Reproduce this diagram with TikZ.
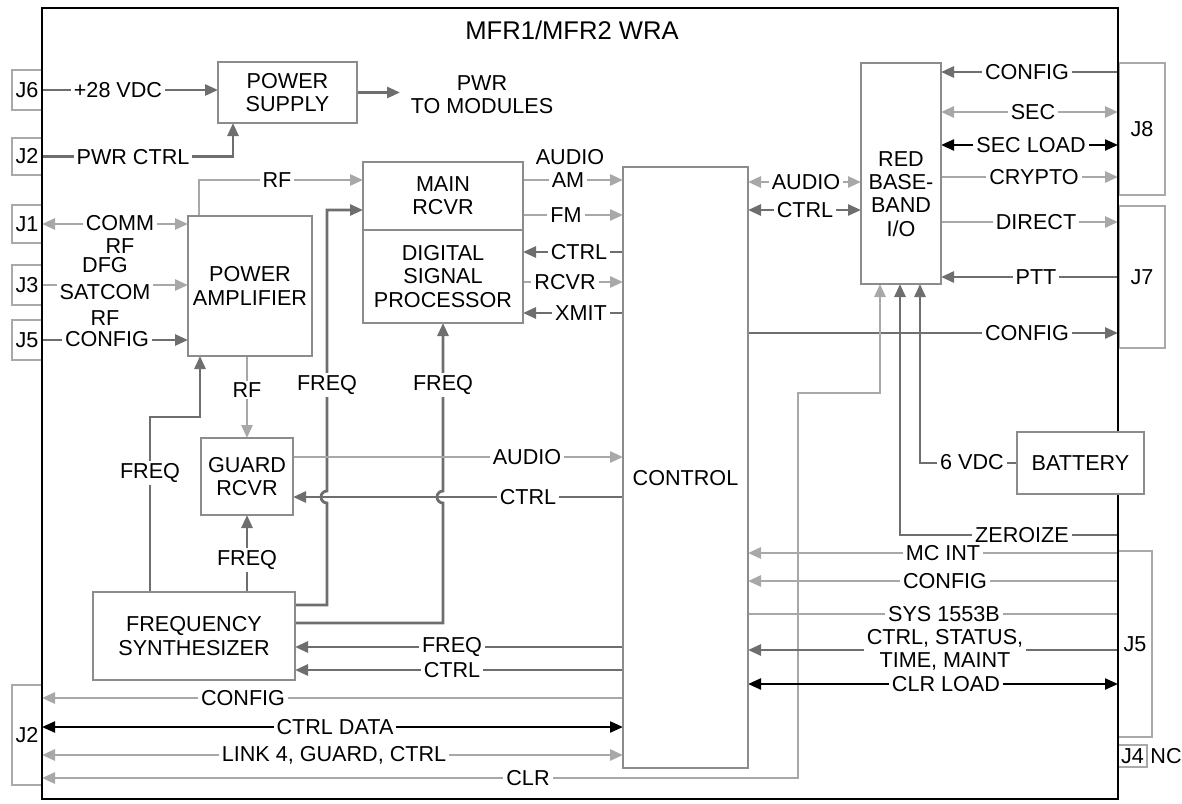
\documentclass[tikz,border=0pt]{standalone}
\usepackage{fontspec}
\setmainfont{Liberation Sans}
\usetikzlibrary{arrows.meta,positioning,calc,backgrounds}
\definecolor{cdark}{HTML}{6E6E6E}
\definecolor{clight}{HTML}{A8A8A8}
\definecolor{cbox}{HTML}{8C8C8C}
\tikzset{
  box/.style={draw=cbox, line width=0.6pt, fill=white, inner sep=0pt, outer sep=0pt, align=center},
  jbox/.style={box, draw=cbox!75},
  lbl/.style={fill=white, inner xsep=1.5pt, inner ysep=1pt, align=center},
  txt/.style={inner sep=0pt, align=center},
  pre/.style={-{Triangle[length=6.5pt,width=5.5pt]}},
  dbl/.style={{Triangle[length=6.5pt,width=5.5pt]}-{Triangle[length=6.5pt,width=5.5pt]}},
  dk/.style={draw=cdark, line width=1.4pt},
  lt/.style={draw=clight, line width=1.4pt},
  bk/.style={draw=black, line width=1.1pt},
}

\begin{document}
\begin{tikzpicture}[x=0.5pt, y=-0.5pt, every node/.append style={font=\fontsize{10.8}{11.6}\selectfont}]
\useasboundingbox (0,0) rectangle (1182,803);
% jacks
\node[jbox, minimum width=15pt, minimum height=20pt] (j6) at (27,90) {J6};
\node[jbox, minimum width=15pt, minimum height=18.5pt] (j2t) at (27,156.5) {J2};
\node[jbox, minimum width=15pt, minimum height=19pt] (j1) at (27,224) {J1};
\node[jbox, minimum width=15pt, minimum height=20pt] (j3) at (27,285) {J3};
\node[jbox, minimum width=15pt, minimum height=20pt] (j5l) at (27,340) {J5};
\node[jbox, minimum width=15pt, minimum height=50pt] (j2b) at (27,735) {J2};
\node[jbox, minimum width=23pt, minimum height=66pt] (j8) at (1142,129) {J8};
\node[jbox, minimum width=23pt, minimum height=71pt] (j7) at (1142,277) {J7};
\node[jbox, minimum width=17pt, minimum height=93pt] (j5r) at (1135,644) {J5};
\node[jbox, minimum width=14.5pt, minimum height=11pt] (j4) at (1132.5,756) {J4};
\node[txt] (lnc) at (1166,756) {NC};
% unit outline
\node[draw=black, line width=1.2pt, minimum width=538pt, minimum height=395.5pt, inner sep=0pt, outer sep=0pt] (wra) at (580,403.5) {};
\node[font=\fontsize{12.8}{14}\selectfont] (title) at (572,30) {MFR1/MFR2 WRA};
% modules
\node[box, minimum width=69.5pt, minimum height=30.5pt] (ps) at (287.5,92.5) {POWER\\SUPPLY};
\node[box, minimum width=62pt, minimum height=70pt] (pa) at (250,286) {POWER\\AMPLIFIER};
\node[box, minimum width=80pt, minimum height=34pt] (mr) at (443,196) {MAIN\\RCVR};
\node[box, minimum width=80pt, minimum height=46.5pt] (dsp) at (443,276.5) {DIGITAL\\SIGNAL\\PROCESSOR};
\node[box, minimum width=46pt, minimum height=38.5pt] (grd) at (247,476.5) {GUARD\\RCVR};
\node[box, minimum width=101pt, minimum height=44pt] (fs) at (194,636) {FREQUENCY\\SYNTHESIZER};
\node[box, minimum width=62.5pt, minimum height=300.5pt] (ctl) at (685.5,467.5) {};
\node[txt] (ctltxt) at (685.5,478) {CONTROL};
\node[box, minimum width=40pt, minimum height=110.5pt] (red) at (901,173.5) {};
\node[txt] (redtxt) at (901,194) {RED\\BASE-\\BAND\\I/O};
\node[box, minimum width=63.5pt, minimum height=31pt] (bat) at (1080.5,463) {BATTERY};
% signal labels, left side
\node[lbl] (l28) at (118,90) {+28 VDC};
\node[txt] (lpwr) at (482,95) {PWR\\TO MODULES};
\node[lbl] (lpc) at (133,157) {PWR CTRL};
\node[lbl] (lcomm) at (120,223) {COMM};
\node[txt] (lcommrf) at (120,246) {RF};
\node[txt] (ldfg) at (105,265) {DFG};
\node[lbl] (lsat) at (105,292) {SATCOM};
\node[txt] (lsatrf) at (105,318) {RF};
\node[lbl] (lcfg5) at (107,339) {CONFIG};
\node[lbl] (lrf1) at (277,180) {RF};
\node[lbl] (lrf2) at (247,390) {RF};
\node[lbl] (lfq1) at (327,385) {FREQ};
\node[lbl] (lfq2) at (443,385) {FREQ};
\node[lbl] (lfq3) at (150,473) {FREQ};
\node[lbl] (lfq4) at (247,560) {FREQ};
% signal labels, middle
\node[txt] (laudio1) at (570,157) {AUDIO};
\node[lbl] (lam) at (568,180) {AM};
\node[lbl] (lfm) at (566,215) {FM};
\node[lbl] (lctl1) at (579,252) {CTRL};
\node[lbl] (lrcvr) at (565,282) {RCVR};
\node[lbl] (lxmit) at (581,313) {XMIT};
\node[lbl] (laudio2) at (527,457) {AUDIO};
\node[lbl] (lctl2) at (528,497) {CTRL};
\node[lbl] (lfq5) at (452,647) {FREQ};
\node[lbl] (lctl3) at (452,670) {CTRL};
\node[lbl] (lcfg2) at (243,698) {CONFIG};
\node[lbl] (lcd) at (335,727) {CTRL DATA};
\node[lbl] (llink) at (334,755) {LINK 4, GUARD, CTRL};
\node[lbl] (lclr) at (528,778) {CLR};
\node[lbl] (laudio3) at (806,182) {AUDIO};
\node[lbl] (lctl4) at (805,210) {CTRL};
% signal labels, right side
\node[lbl] (lcfg8) at (1027,72) {CONFIG};
\node[lbl] (lsec) at (1033,112) {SEC};
\node[lbl] (lsecld) at (1031,145) {SEC LOAD};
\node[lbl] (lcry) at (1034,177) {CRYPTO};
\node[lbl] (ldir) at (1036,222) {DIRECT};
\node[lbl] (lptt) at (1036,277) {PTT};
\node[lbl] (lcfg7) at (1027,333) {CONFIG};
\node[lbl] (l6v) at (972,462) {6 VDC};
\node[lbl] (lzer) at (1022,535) {ZEROIZE};
\node[lbl] (lmc) at (943,553) {MC INT};
\node[lbl] (lcfg5r) at (945,581) {CONFIG};
\node[lbl] (lsys) at (944,614) {SYS 1553B};
\node[lbl] (lcsm) at (945,650) {CTRL, STATUS,\\TIME, MAINT};
\node[lbl] (lclrld) at (946,684) {CLR LOAD};

\begin{scope}[on background layer]
% power and RF inputs
\draw[dk,pre] (j6.east) -- (j6 -| ps.west);
\draw[dk,pre] (ps.east) -- ++(43,0);
\draw[dk,pre] (j2t.east) -| ($(ps.south west)+(15,0)$);
\draw[lt,dbl] (j1.east) -- (j1 -| pa.west);
\draw[lt,pre] (j3.east) -- (j3 -| pa.west);
\draw[dk,pre] (j5l.east) -- (j5l -| pa.west);
\draw[lt,pre] ($(pa.north west)+(11,0)$) |- (lrf1 -| mr.west);
% synthesizer outputs
\draw[dk,pre] ($(fs.north east)+(0,13)$) -| ($(lfq1 |- lctl2)+(0,6)$) arc[start angle=-90, end angle=-270, radius=3pt] |- ($(mr.west)+(0,14)$);
\draw[dk,pre] ($(fs.north east)+(0,31)$) -| ($(lfq2 |- lctl2)+(0,6)$) arc[start angle=-90, end angle=-270, radius=3pt] -- (lfq2 |- dsp.south);
\coordinate (fqbend) at (200,417);
\draw[dk,pre] (lfq3 |- fs.north) |- (fqbend) -- (fqbend |- pa.south);
\draw[lt,pre] (grd.north |- pa.south) -- (grd.north);
\draw[dk,pre] (grd.south |- fs.north) -- (grd.south);
% guard and receiver to control
\draw[lt,pre] (laudio2 -| grd.east) -- (laudio2 -| ctl.west);
\draw[dk,pre] (lctl2 -| ctl.west) -- (lctl2 -| grd.east);
\draw[lt,pre] (lam -| mr.east) -- (lam -| ctl.west);
\draw[lt,pre] (lfm -| mr.east) -- (lfm -| ctl.west);
\draw[dk,pre] (lctl1 -| ctl.west) -- (lctl1 -| dsp.east);
\draw[lt,pre] (lrcvr -| dsp.east) -- (lrcvr -| ctl.west);
\draw[dk,pre] (lxmit -| ctl.west) -- (lxmit -| dsp.east);
\draw[lt,dbl] (laudio3 -| ctl.east) -- (laudio3 -| red.west);
\draw[dk,dbl] (lctl4 -| ctl.east) -- (lctl4 -| red.west);
% red baseband to J8 / J7
\draw[dk,pre] (lcfg8 -| wra.east) -- (lcfg8 -| red.east);
\draw[lt,dbl] (lsec -| red.east) -- (lsec -| wra.east);
\draw[bk,dbl] (lsecld -| red.east) -- (lsecld -| wra.east);
\draw[lt,pre] (lcry -| red.east) -- (lcry -| wra.east);
\draw[lt,pre] (ldir -| red.east) -- (ldir -| wra.east);
\draw[dk,pre] (lptt -| wra.east) -- (lptt -| red.east);
\draw[dk,pre] (lcfg7 -| ctl.east) -- (lcfg7 -| wra.east);
% feeds into red baseband bottom
\coordinate (clrbend) at (798,393);
\draw[lt,dbl] ($(red.south west)+(19,0)$) |- (clrbend) |- (lclr -| j2b.east);
\draw[dk,pre] (lzer -| wra.east) -| ($(red.south west)+(39,0)$);
\draw[dk,pre] (bat.west) -| ($(red.south west)+(59,0)$);
% J5 to control
\draw[lt,pre] (lmc -| wra.east) -- (lmc -| ctl.east);
\draw[lt,pre] (lcfg5r -| wra.east) -- (lcfg5r -| ctl.east);
\draw[lt] (lsys -| wra.east) -- (lsys -| ctl.east);
\draw[dk,pre] (lcsm -| wra.east) -- (lcsm -| ctl.east);
\draw[bk,dbl] (lclrld -| ctl.east) -- (lclrld -| wra.east);
% control to synthesizer and J2
\draw[dk,pre] (lfq5 -| ctl.west) -- (lfq5 -| fs.east);
\draw[dk,pre] (lctl3 -| ctl.west) -- (lctl3 -| fs.east);
\draw[lt,pre] (lcfg2 -| ctl.west) -- (lcfg2 -| j2b.east);
\draw[bk,dbl] (lcd -| j2b.east) -- (lcd -| ctl.west);
\draw[lt,dbl] (llink -| j2b.east) -- (llink -| ctl.west);
\end{scope}
\end{tikzpicture}
\end{document}
